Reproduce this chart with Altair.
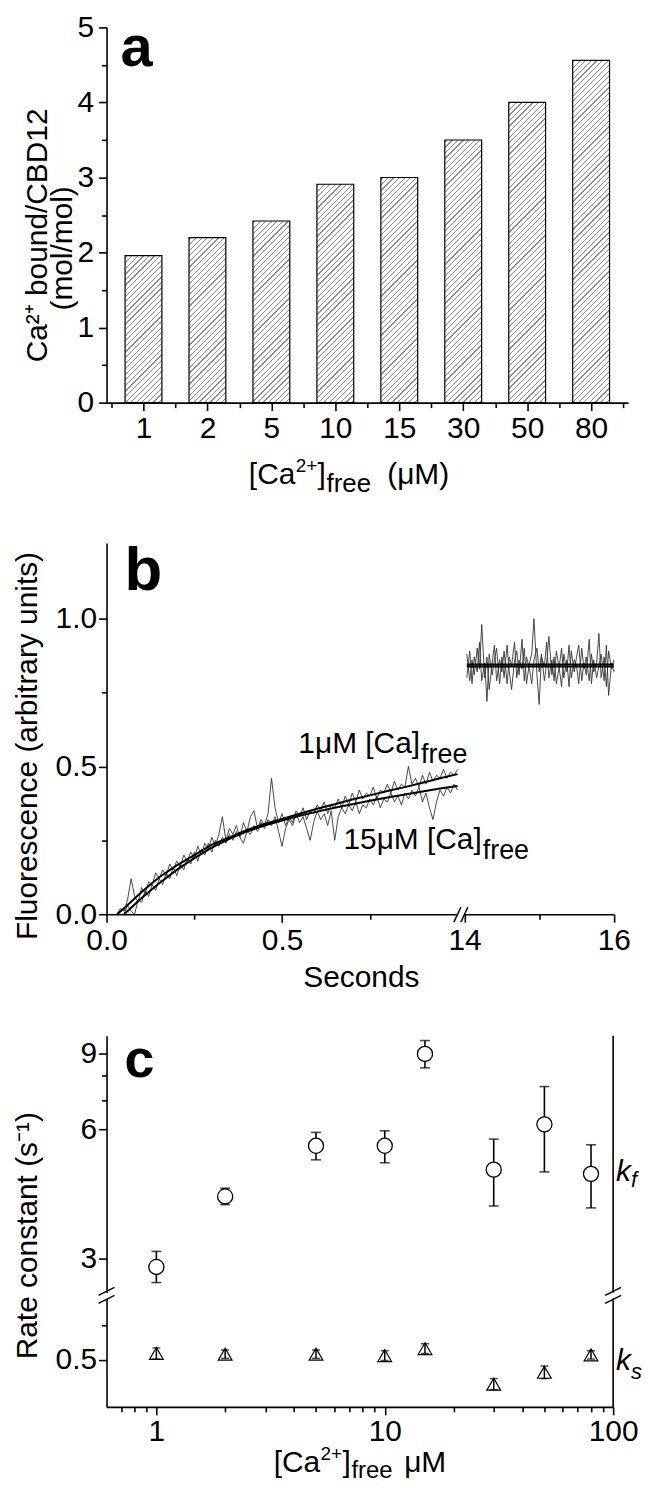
import json
import altair as alt
import pandas as pd

FONT = "Liberation Sans"
FS = 30

# ---------------- panel a : Ca2+ bound per CBD12 ----------------
a_categories = ["1", "2", "5", "10", "15", "30", "50", "80"]
a_values = [1.96, 2.20, 2.42, 2.91, 3.00, 3.50, 4.00, 4.56]

# ---------------- panel b : fluorescence traces ----------------
b_t_1uM = [0.03, 0.04, 0.05, 0.06, 0.07, 0.08, 0.09, 0.10, 0.11, 0.12,
           0.13, 0.14, 0.15, 0.16, 0.17, 0.18, 0.19, 0.20, 0.21, 0.22,
           0.23, 0.24, 0.25, 0.26, 0.27, 0.28, 0.29, 0.30, 0.31, 0.32,
           0.33, 0.34, 0.35, 0.36, 0.37, 0.38, 0.39, 0.40, 0.41, 0.42,
           0.43, 0.44, 0.45, 0.46, 0.47, 0.48, 0.49, 0.50, 0.51, 0.52,
           0.53, 0.54, 0.55, 0.56, 0.57, 0.58, 0.59, 0.60, 0.61, 0.62,
           0.63, 0.64, 0.65, 0.66, 0.67, 0.68, 0.69, 0.70, 0.71, 0.72,
           0.73, 0.74, 0.75, 0.76, 0.77, 0.78, 0.79, 0.80, 0.81, 0.82,
           0.83, 0.84, 0.85, 0.86, 0.87, 0.88, 0.89, 0.90, 0.91, 0.92,
           0.93, 0.94, 0.95, 0.96, 0.97, 0.98, 0.99, 1.00]
b_f_1uM = [0.00, 0.02, 0.01, 0.05, 0.12, 0.06, 0.04, 0.09, 0.07, 0.11,
           0.10, 0.14, 0.12, 0.15, 0.13, 0.17, 0.15, 0.18, 0.16, 0.20,
           0.18, 0.21, 0.19, 0.23, 0.20, 0.24, 0.22, 0.26, 0.23, 0.27,
           0.33, 0.25, 0.29, 0.27, 0.30, 0.26, 0.31, 0.28, 0.33, 0.35,
           0.29, 0.32, 0.30, 0.34, 0.46, 0.36, 0.31, 0.34, 0.30, 0.33,
           0.31, 0.35, 0.33, 0.36, 0.32, 0.35, 0.34, 0.37, 0.35, 0.38,
           0.34, 0.37, 0.36, 0.39, 0.36, 0.40, 0.37, 0.41, 0.38, 0.42,
           0.39, 0.41, 0.40, 0.43, 0.39, 0.42, 0.41, 0.44, 0.41, 0.45,
           0.42, 0.44, 0.43, 0.50, 0.44, 0.46, 0.43, 0.47, 0.44, 0.48,
           0.45, 0.47, 0.46, 0.49, 0.46, 0.48, 0.47, 0.49]
b_t_15uM = [0.05, 0.06, 0.07, 0.08, 0.09, 0.10, 0.11, 0.12, 0.13, 0.14,
            0.15, 0.16, 0.17, 0.18, 0.19, 0.20, 0.21, 0.22, 0.23, 0.24,
            0.25, 0.26, 0.27, 0.28, 0.29, 0.30, 0.31, 0.32, 0.33, 0.34,
            0.35, 0.36, 0.37, 0.38, 0.39, 0.40, 0.41, 0.42, 0.43, 0.44,
            0.45, 0.46, 0.47, 0.48, 0.49, 0.50, 0.51, 0.52, 0.53, 0.54,
            0.55, 0.56, 0.57, 0.58, 0.59, 0.60, 0.61, 0.62, 0.63, 0.64,
            0.65, 0.66, 0.67, 0.68, 0.69, 0.70, 0.71, 0.72, 0.73, 0.74,
            0.75, 0.76, 0.77, 0.78, 0.79, 0.80, 0.81, 0.82, 0.83, 0.84,
            0.85, 0.86, 0.87, 0.88, 0.89, 0.90, 0.91, 0.92, 0.93, 0.94,
            0.95, 0.96, 0.97, 0.98, 0.99, 1.00]
b_f_15uM = [0.00, 0.03, 0.01, 0.00, 0.05, 0.04, 0.08, 0.06, 0.10, 0.08,
            0.12, 0.10, 0.14, 0.12, 0.16, 0.13, 0.17, 0.15, 0.19, 0.17,
            0.21, 0.18, 0.22, 0.20, 0.24, 0.21, 0.25, 0.23, 0.26, 0.24,
            0.27, 0.25, 0.28, 0.26, 0.24, 0.28, 0.27, 0.30, 0.28, 0.31,
            0.29, 0.32, 0.30, 0.33, 0.28, 0.23, 0.29, 0.32, 0.30, 0.34,
            0.31, 0.33, 0.29, 0.25, 0.31, 0.35, 0.32, 0.34, 0.30, 0.35,
            0.25, 0.33, 0.36, 0.34, 0.37, 0.35, 0.38, 0.34, 0.37, 0.36,
            0.39, 0.37, 0.40, 0.36, 0.39, 0.38, 0.41, 0.38, 0.40, 0.37,
            0.41, 0.39, 0.42, 0.40, 0.43, 0.38, 0.41, 0.36, 0.32, 0.38,
            0.42, 0.40, 0.43, 0.41, 0.44, 0.42]
b_fit_t_1uM = [0.03, 0.05, 0.10, 0.15, 0.20, 0.25, 0.30, 0.35, 0.40, 0.45, 0.50,
               0.55, 0.60, 0.65, 0.70, 0.75, 0.80, 0.85, 0.90, 0.95, 1.00]
b_fit_f_1uM = [0.000, 0.020, 0.075, 0.125, 0.165, 0.200, 0.235, 0.260, 0.285, 0.305, 0.322,
               0.340, 0.357, 0.372, 0.388, 0.402, 0.417, 0.430, 0.445, 0.460, 0.474]
b_fit_t_15uM = [0.05, 0.10, 0.15, 0.20, 0.25, 0.30, 0.35, 0.40, 0.45, 0.50,
                0.55, 0.60, 0.65, 0.70, 0.75, 0.80, 0.85, 0.90, 0.95, 1.00]
b_fit_f_15uM = [0.000, 0.055, 0.105, 0.150, 0.190, 0.225, 0.255, 0.280, 0.300, 0.317,
                0.333, 0.347, 0.360, 0.372, 0.384, 0.395, 0.405, 0.415, 0.425, 0.434]
b_t_late = [14.03, 14.07, 14.10, 14.13, 14.17, 14.20, 14.23, 14.27, 14.30, 14.33,
            14.37, 14.40, 14.43, 14.47, 14.50, 14.53, 14.57, 14.60, 14.63, 14.67,
            14.70, 14.73, 14.77, 14.80, 14.83, 14.87, 14.90, 14.93, 14.97, 15.00,
            15.03, 15.07, 15.10, 15.13, 15.17, 15.20, 15.23, 15.27, 15.30, 15.33,
            15.37, 15.40, 15.43, 15.47, 15.50, 15.53, 15.57, 15.60, 15.63, 15.67,
            15.70, 15.73, 15.77, 15.80, 15.83, 15.87, 15.90, 15.93, 15.97, 16.00]
b_f_late_1uM = [0.88, 0.79, 0.86, 0.81, 0.90, 0.83, 0.98, 0.80, 0.87, 0.76,
                0.85, 0.91, 0.79, 0.86, 0.82, 0.89, 0.78, 0.87, 0.84, 0.92,
                0.80, 0.86, 0.83, 0.90, 0.78, 0.85, 0.88, 1.00, 0.81, 0.71,
                0.87, 0.84, 0.92, 0.80, 0.86, 0.79, 0.89, 0.83, 0.77, 0.88,
                0.82, 0.91, 0.80, 0.86, 0.84, 0.78, 0.90, 0.83, 0.87, 0.79,
                0.88, 0.82, 0.85, 0.95, 0.80, 0.87, 0.77, 0.89, 0.83, 0.86]
b_f_late_15uM = [0.80, 0.89, 0.78, 0.87, 0.82, 0.92, 0.79, 0.85, 0.72, 0.88,
                 0.81, 0.86, 0.90, 0.78, 0.87, 0.80, 0.91, 0.82, 0.76, 0.86,
                 0.89, 0.81, 0.93, 0.79, 0.87, 0.83, 0.78, 0.86, 0.90, 0.82,
                 0.88, 0.79, 0.85, 0.94, 0.81, 0.87, 0.78, 0.84, 0.90, 0.80,
                 0.86, 0.77, 0.89, 0.82, 0.87, 0.91, 0.79, 0.85, 0.81, 0.93,
                 0.78, 0.86, 0.80, 0.84, 0.88, 0.79, 0.91, 0.74, 0.85, 0.82]
b_fit_t_late = [14.03, 16.00]
b_fit_f_late_1uM = [0.845, 0.845]
b_fit_f_late_15uM = [0.838, 0.838]

# ---------------- panel c : rate constants ----------------
c_ca_free = [1, 2, 5, 10, 15, 30, 50, 80]
c_kf = [2.86, 4.18, 5.49, 5.49, 9.00, 4.83, 6.16, 4.72]
c_kf_lo = [2.63, 4.00, 5.09, 5.01, 8.35, 3.97, 4.77, 3.93]
c_kf_hi = [3.11, 4.37, 5.90, 5.95, 9.67, 5.69, 7.55, 5.52]
c_ks = [0.509, 0.508, 0.508, 0.506, 0.516, 0.465, 0.482, 0.507]
c_ks_err = [0.008, 0.006, 0.006, 0.007, 0.007, 0.008, 0.009, 0.006]

# ---------------- layout constants ----------------
W_A, H_A = 524, 377
W_B, H_B = 510, 373
W_C, H_CU, H_CL = 509, 258, 109
BAR_W = 37
TX = -70  # baseline position of the rotated y titles (pixels left of the axis)

ONE = pd.DataFrame({"k": [0]})


def cond_tick(test, major, minor):
    return {"condition": {"test": test, "value": major}, "value": minor}


def txt(s, x, y, size=FS, align="left", baseline="alphabetic", **kw):
    return alt.Chart(ONE).mark_text(
        text=s, font=FONT, fontSize=size, align=align, baseline=baseline,
        color="black", **kw
    ).encode(x=alt.value(x), y=alt.value(y))


def seg(x1, y1, x2, y2, color="black", width=1.5):
    return alt.Chart(ONE).mark_rule(color=color, strokeWidth=width).encode(
        x=alt.value(x1), y=alt.value(y1), x2=alt.value(x2), y2=alt.value(y2))


def ca_title(x0, y, sub_dy=8, sub_size=26):
    """'[Ca' + raised '2+' + ']' + lowered 'free' starting at x0 (pixels)."""
    return [
        txt("[Ca", x0, y),
        txt("2+", x0 + 47, y - 12, size=19),
        txt("]", x0 + 69, y),
        txt("free", x0 + 78, y + sub_dy, size=sub_size),
    ]


def hatch(h, w=BAR_W, p=5.6, lw=1.2, col="#8c8c8c"):
    L = w + h
    dx = L * w / (w * w + h * h)
    dy = L * h / (w * w + h * h)
    stops = [alt.GradientStop(color="white", offset=0)]
    pos = 1.5
    while pos < L:
        a = pos / L
        b = min((pos + lw) / L, 1.0)
        stops += [alt.GradientStop(color="white", offset=a),
                  alt.GradientStop(color=col, offset=a),
                  alt.GradientStop(color=col, offset=b),
                  alt.GradientStop(color="white", offset=b)]
        pos += p
    return alt.Gradient(gradient="linear", x1=0, y1=0, x2=dx, y2=dy, stops=stops)


# ================= panel a =================
df_a = pd.DataFrame({"idx": list(range(len(a_categories))), "cat": a_categories, "val": a_values})
xa = alt.X("idx:Q", scale=alt.Scale(domain=[-0.5, len(a_categories) - 0.5], nice=False, zero=False),
           axis=alt.Axis(values=[v / 2 for v in range(-1, 2 * len(a_categories))],
                         labelExpr=f"datum.value % 1 === 0 ? {json.dumps(a_categories)}[datum.value] : ''",
                         tickSize=cond_tick("datum.value % 1 === 0", 8, 5),
                         labelPadding=3, title=None))
ya = alt.Y("val:Q", scale=alt.Scale(domain=[0, 5], nice=False),
           axis=alt.Axis(values=[v / 2 for v in range(0, 11)],
                         labelExpr="datum.value % 1 === 0 ? format(datum.value, 'd') : ''",
                         tickSize=cond_tick("datum.value % 1 === 0", 8, 5),
                         labelPadding=5, title=None))
px_unit = H_A / 5
bars = [alt.Chart(df_a.iloc[[i]]).mark_bar(fill=hatch(v * px_unit), stroke="black",
                                            strokeWidth=1.2, size=BAR_W).encode(x=xa, y=ya)
        for i, v in enumerate(a_values)]
panel_a = alt.layer(
    *bars,
    txt("a", 14, 39, size=58, fontWeight="bold"),
    txt("Ca²⁺ bound/CBD12", TX + 10, 209, align="center", angle=270),
    txt("(mol/mol)", TX + 35, 222, align="center", angle=270),
    *ca_title(143, H_A + 82),
    txt("(μM)", 282, H_A + 82),
).properties(width=W_A, height=H_A)

# ================= panel b =================
noise = pd.concat([
    pd.DataFrame({"t": b_t_1uM, "f": b_f_1uM, "s": "n1"}),
    pd.DataFrame({"t": b_t_15uM, "f": b_f_15uM, "s": "n15"}),
    pd.DataFrame({"t": b_t_late, "f": b_f_late_1uM, "s": "L1"}),
    pd.DataFrame({"t": b_t_late, "f": b_f_late_15uM, "s": "L15"}),
])
fits = pd.concat([
    pd.DataFrame({"t": b_fit_t_1uM, "f": b_fit_f_1uM, "s": "f1"}),
    pd.DataFrame({"t": b_fit_t_15uM, "f": b_fit_f_15uM, "s": "f15"}),
    pd.DataFrame({"t": b_fit_t_late, "f": b_fit_f_late_1uM, "s": "fl1"}),
    pd.DataFrame({"t": b_fit_t_late, "f": b_fit_f_late_15uM, "s": "fl15"}),
])
xb = alt.X("t:Q", scale=alt.Scale(domain=[0, 1.0, 14, 16], range=[0, 352.7, 359.7, 509.7],
                                  nice=False, zero=False),
           axis=alt.Axis(values=[0, 0.25, 0.5, 0.75, 14, 15, 16],
                         labelExpr="datum.value === 0 ? '0.0' : datum.value === 0.5 ? '0.5' : "
                                   "datum.value === 14 ? '14' : datum.value === 16 ? '16' : ''",
                         tickSize=cond_tick("datum.value === 0 || datum.value === 0.5 || "
                                            "datum.value === 14 || datum.value === 16", 8, 5),
                         labelPadding=3, title=None))
yb = alt.Y("f:Q", scale=alt.Scale(domain=[0, 1.256], nice=False, zero=False),
           axis=alt.Axis(values=[0, 0.25, 0.5, 0.75, 1.0],
                         labelExpr="datum.value === 0 ? '0.0' : datum.value === 0.5 ? '0.5' : "
                                   "datum.value === 1 ? '1.0' : ''",
                         tickSize=cond_tick("datum.value === 0 || datum.value === 0.5 || datum.value === 1", 8, 5),
                         labelPadding=2, title=None))
panel_b = alt.layer(
    alt.Chart(noise).mark_line(color="#333333", strokeWidth=0.9).encode(x=xb, y=yb, detail="s:N"),
    alt.Chart(fits).mark_line(color="black", strokeWidth=2).encode(x=xb, y=yb, detail="s:N"),
    seg(352.5, H_B, 359.5, H_B, color="white", width=5),
    seg(349, H_B + 8, 356, H_B - 7),
    seg(356, H_B + 8, 363, H_B - 7),
    txt("b", 18, 47, size=62, fontWeight="bold"),
    txt("1μM [Ca]", 315, 211, align="right"),
    txt("free", 316, 221, size=27),
    txt("15μM [Ca]", 377, 307, align="right"),
    txt("free", 378, 318, size=27),
    txt("Fluorescence (arbitrary units)", TX, 204, align="center", angle=270),
    txt("Seconds", 256, H_B + 73, align="center"),
).properties(width=W_B, height=H_B)

# ================= panel c =================
df_c = pd.DataFrame({"ca": c_ca_free, "kf": c_kf, "lo": c_kf_lo, "hi": c_kf_hi, "ks": c_ks,
                     "ks_lo": [k - e for k, e in zip(c_ks, c_ks_err)],
                     "ks_hi": [k + e for k, e in zip(c_ks, c_ks_err)]})
xc_scale = alt.Scale(type="log", domain=[0.605, 100], nice=False)
xc_none = alt.X("ca:Q", scale=xc_scale, axis=None)
xc_axis = alt.X("ca:Q", scale=xc_scale,
                axis=alt.Axis(values=[0.7, 0.8, 0.9, 1, 2, 3, 4, 5, 6, 7, 8, 9, 10,
                                      20, 30, 40, 50, 60, 70, 80, 90, 100],
                              labelExpr="datum.value === 1 ? '1' : datum.value === 10 ? '10' : "
                                        "datum.value === 100 ? '100' : ''",
                              tickSize=cond_tick("datum.value === 1 || datum.value === 10 || datum.value === 100", 8, 5),
                              labelPadding=2, title=None))
yu_scale = alt.Scale(type="log", domain=[2.494, 9.93], nice=False)
yu_axis = alt.Axis(values=[3, 6, 7, 8, 9],
                   labelExpr="datum.value === 3 || datum.value === 6 || datum.value === 9 ? datum.label : ''",
                   tickSize=cond_tick("datum.value === 3 || datum.value === 6 || datum.value === 9", 8, 5),
                   labelPadding=2, title=None)


def yu(field):
    return alt.Y(field, scale=yu_scale, axis=yu_axis)


yl_scale = alt.Scale(domain=[0.4324, 0.5881], nice=False, zero=False)
yl_axis = alt.Axis(values=[0.5, 0.55], labelExpr="datum.value === 0.5 ? '0.5' : ''",
                   tickSize=cond_tick("datum.value === 0.5", 8, 5), labelPadding=2, title=None)


def yl(field):
    return alt.Y(field, scale=yl_scale, axis=yl_axis)


base_c = alt.Chart(df_c)
panel_cu = alt.layer(
    base_c.mark_rule(color="black", strokeWidth=1.6).encode(x=xc_none, y=yu("lo:Q"), y2="hi:Q"),
    base_c.mark_tick(orient="horizontal", size=10, thickness=1.6, color="black").encode(x=xc_none, y=yu("lo:Q")),
    base_c.mark_tick(orient="horizontal", size=10, thickness=1.6, color="black").encode(x=xc_none, y=yu("hi:Q")),
    base_c.mark_point(shape="circle", size=230, filled=True, fill="white", stroke="black",
                      strokeWidth=1.3, opacity=1).encode(x=xc_none, y=yu("kf:Q")),
    seg(W_C, 0, W_C, H_CU, width=1.6),
    seg(-8, H_CU + 3, 8, H_CU - 5),
    seg(-8, H_CU + 11, 8, H_CU + 3),
    seg(W_C - 8, H_CU + 3, W_C + 8, H_CU - 5),
    seg(W_C - 8, H_CU + 11, W_C + 8, H_CU + 3),
    txt("c", 18, 42, size=54, fontWeight="bold"),
    txt("k", 512, 146, fontStyle="italic"),
    txt("f", 527, 152, size=22, fontStyle="italic"),
    txt("Rate constant (s⁻¹)", TX, 201, align="center", angle=270),
).properties(width=W_C, height=H_CU)

panel_cl = alt.layer(
    base_c.mark_rule(color="black", strokeWidth=1.5).encode(x=xc_axis, y=yl("ks_lo:Q"), y2="ks_hi:Q"),
    base_c.mark_tick(orient="horizontal", size=8, thickness=1.5, color="black").encode(x=xc_axis, y=yl("ks_lo:Q")),
    base_c.mark_tick(orient="horizontal", size=8, thickness=1.5, color="black").encode(x=xc_axis, y=yl("ks_hi:Q")),
    base_c.mark_point(shape="triangle-up", size=190, filled=False, stroke="black",
                      strokeWidth=1.2, opacity=1).encode(x=xc_axis, y=yl("ks:Q")),
    seg(W_C, 0, W_C, H_CL, width=1.6),
    txt("k", 512, 72, fontStyle="italic"),
    txt("s", 527, 81, size=22, fontStyle="italic"),
    *ca_title(168, H_CL + 65, sub_dy=6, sub_size=24),
    txt("μM", 299, H_CL + 65),
).properties(width=W_C, height=H_CL)


def spacer(h):
    return alt.Chart(ONE).mark_point(opacity=0).encode(
        x=alt.value(0), y=alt.value(0)).properties(width=10, height=h)


chart = alt.vconcat(
    panel_a, spacer(141), panel_b, spacer(122), panel_cu, spacer(6), panel_cl,
    spacing=0, bounds="flush",
).properties(
    padding={"left": 4, "top": 1, "right": 0, "bottom": 0}
).configure_view(strokeWidth=0).configure_axis(
    domainColor="black", domainWidth=1.6, tickColor="black", tickWidth=1.6,
    labelColor="black", labelFont=FONT, labelFontSize=FS, labelFlush=False,
    labelOverlap=False, grid=False,
)

chart.save("out.html", embed_options={"renderer": "svg", "actions": False})
